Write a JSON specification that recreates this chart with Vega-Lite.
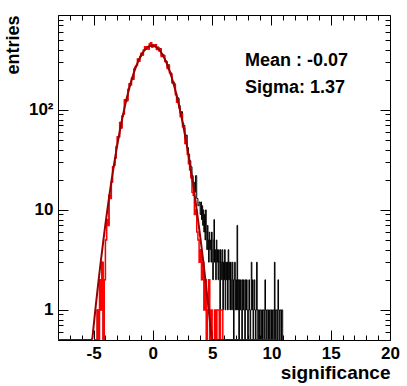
{
 "$schema": "https://vega.github.io/schema/vega-lite/v6.json",
 "width": 332, "height": 325,
 "autosize": "none",
 "padding": {"left": 58, "top": 15, "right": 17, "bottom": 46},
 "background": "white",
 "config": {
  "view": {"stroke": "black", "strokeWidth": 1},
  "font": "Liberation Sans",
  "axis": {"labelFont": "Liberation Sans", "labelFontWeight": "bold", "labelFontSize": 17, "labelColor": "black",
   "titleFont": "Liberation Sans", "titleFontWeight": "bold", "titleFontSize": 18, "titleColor": "black",
   "grid": false, "domain": false, "tickColor": "black", "tickWidth": 1, "labelOverlap": false, "labelFlush": false}
 },
 "datasets": {
  "hred": [
   {"c":-4.95,"n":0},{"c":-4.85,"n":0},{"c":-4.75,"n":0},{"c":-4.65,"n":1},{"c":-4.55,"n":0},{"c":-4.45,"n":2},{"c":-4.35,"n":1},{"c":-4.25,"n":3},{"c":-4.15,"n":0},{"c":-4.05,"n":2},
   {"c":-3.95,"n":5},{"c":-3.85,"n":8},{"c":-3.75,"n":7},{"c":-3.65,"n":14},{"c":-3.55,"n":13},{"c":-3.45,"n":19},{"c":-3.35,"n":27},{"c":-3.25,"n":28},{"c":-3.15,"n":33},{"c":-3.05,"n":43},
   {"c":-2.95,"n":54},{"c":-2.85,"n":54},{"c":-2.75,"n":75},{"c":-2.65,"n":66},{"c":-2.55,"n":87},{"c":-2.45,"n":91},{"c":-2.35,"n":126},{"c":-2.25,"n":122},{"c":-2.15,"n":124},{"c":-2.05,"n":161},
   {"c":-1.95,"n":183},{"c":-1.85,"n":178},{"c":-1.75,"n":209},{"c":-1.65,"n":202},{"c":-1.55,"n":257},{"c":-1.45,"n":270},{"c":-1.35,"n":278},{"c":-1.25,"n":323},{"c":-1.15,"n":306},{"c":-1.05,"n":341},
   {"c":-0.95,"n":369},{"c":-0.85,"n":353},{"c":-0.75,"n":397},{"c":-0.65,"n":428},{"c":-0.55,"n":404},{"c":-0.45,"n":427},{"c":-0.35,"n":406},{"c":-0.25,"n":455},{"c":-0.15,"n":469},{"c":-0.05,"n":425},
   {"c":0.05,"n":445},{"c":0.15,"n":430},{"c":0.25,"n":449},{"c":0.35,"n":401},{"c":0.45,"n":420},{"c":0.55,"n":391},{"c":0.65,"n":407},{"c":0.75,"n":341},{"c":0.85,"n":353},{"c":0.95,"n":348},
   {"c":1.05,"n":304},{"c":1.15,"n":303},{"c":1.25,"n":260},{"c":1.35,"n":278},{"c":1.45,"n":235},{"c":1.55,"n":228},{"c":1.65,"n":187},{"c":1.75,"n":185},{"c":1.85,"n":178},{"c":1.95,"n":142},
   {"c":2.05,"n":119},{"c":2.15,"n":126},{"c":2.25,"n":105},{"c":2.35,"n":86},{"c":2.45,"n":91},{"c":2.55,"n":68},{"c":2.65,"n":65},{"c":2.75,"n":46},{"c":2.85,"n":51},{"c":2.95,"n":36},
   {"c":3.05,"n":29},{"c":3.15,"n":25},{"c":3.25,"n":21},{"c":3.35,"n":15},{"c":3.45,"n":14},{"c":3.55,"n":9},{"c":3.65,"n":10},{"c":3.75,"n":6},{"c":3.85,"n":5},{"c":3.95,"n":3},
   {"c":4.05,"n":4},{"c":4.15,"n":2},{"c":4.25,"n":3},{"c":4.35,"n":1},{"c":4.45,"n":2},{"c":4.55,"n":0},{"c":4.65,"n":1},{"c":4.75,"n":2},{"c":4.85,"n":0},{"c":4.95,"n":1},
   {"c":5.05,"n":0},{"c":5.15,"n":0},{"c":5.25,"n":1},{"c":5.35,"n":0},{"c":5.45,"n":1},{"c":5.55,"n":1},{"c":5.65,"n":0},{"c":5.75,"n":1},{"c":5.85,"n":1},{"c":5.95,"n":0}
  ],
  "hblack": [
   {"c":-4.95,"n":0},{"c":-4.85,"n":0},{"c":-4.75,"n":0},{"c":-4.65,"n":1},{"c":-4.55,"n":0},{"c":-4.45,"n":2},{"c":-4.35,"n":1},{"c":-4.25,"n":3},{"c":-4.15,"n":0},{"c":-4.05,"n":2},
   {"c":-3.95,"n":5},{"c":-3.85,"n":8},{"c":-3.75,"n":7},{"c":-3.65,"n":14},{"c":-3.55,"n":13},{"c":-3.45,"n":19},{"c":-3.35,"n":27},{"c":-3.25,"n":28},{"c":-3.15,"n":33},{"c":-3.05,"n":43},
   {"c":-2.95,"n":54},{"c":-2.85,"n":54},{"c":-2.75,"n":75},{"c":-2.65,"n":66},{"c":-2.55,"n":87},{"c":-2.45,"n":91},{"c":-2.35,"n":126},{"c":-2.25,"n":122},{"c":-2.15,"n":124},{"c":-2.05,"n":161},
   {"c":-1.95,"n":183},{"c":-1.85,"n":178},{"c":-1.75,"n":209},{"c":-1.65,"n":202},{"c":-1.55,"n":257},{"c":-1.45,"n":270},{"c":-1.35,"n":278},{"c":-1.25,"n":323},{"c":-1.15,"n":306},{"c":-1.05,"n":341},
   {"c":-0.95,"n":369},{"c":-0.85,"n":353},{"c":-0.75,"n":397},{"c":-0.65,"n":428},{"c":-0.55,"n":404},{"c":-0.45,"n":427},{"c":-0.35,"n":406},{"c":-0.25,"n":455},{"c":-0.15,"n":469},{"c":-0.05,"n":425},
   {"c":0.05,"n":448},{"c":0.15,"n":434},{"c":0.25,"n":452},{"c":0.35,"n":405},{"c":0.45,"n":425},{"c":0.55,"n":395},{"c":0.65,"n":411},{"c":0.75,"n":346},{"c":0.85,"n":357},{"c":0.95,"n":353},
   {"c":1.05,"n":309},{"c":1.15,"n":308},{"c":1.25,"n":265},{"c":1.35,"n":283},{"c":1.45,"n":240},{"c":1.55,"n":233},{"c":1.65,"n":192},{"c":1.75,"n":191},{"c":1.85,"n":183},{"c":1.95,"n":148},
   {"c":2.05,"n":125},{"c":2.15,"n":132},{"c":2.25,"n":111},{"c":2.35,"n":92},{"c":2.45,"n":96},{"c":2.55,"n":74},{"c":2.65,"n":70},{"c":2.75,"n":52},{"c":2.85,"n":56},{"c":2.95,"n":42},
   {"c":3.05,"n":36},{"c":3.15,"n":31},{"c":3.25,"n":27},{"c":3.35,"n":22},{"c":3.45,"n":19},{"c":3.55,"n":15},{"c":3.65,"n":22},{"c":3.75,"n":13},{"c":3.85,"n":11},{"c":3.95,"n":12},
   {"c":4.025,"n":9},{"c":4.075,"n":12},{"c":4.125,"n":8},{"c":4.175,"n":11},{"c":4.225,"n":7},{"c":4.275,"n":10},{"c":4.325,"n":6},{"c":4.375,"n":9},{"c":4.425,"n":5},{"c":4.475,"n":10},
   {"c":4.525,"n":6},{"c":4.575,"n":4},{"c":4.625,"n":7},{"c":4.675,"n":5},{"c":4.725,"n":3},{"c":4.775,"n":6},{"c":4.825,"n":4},{"c":4.875,"n":5},{"c":4.925,"n":3},{"c":4.975,"n":6},
   {"c":5.025,"n":4},{"c":5.075,"n":2},{"c":5.125,"n":5},{"c":5.175,"n":8},{"c":5.225,"n":3},{"c":5.275,"n":4},{"c":5.325,"n":2},{"c":5.375,"n":5},{"c":5.425,"n":3},{"c":5.475,"n":4},
   {"c":5.525,"n":2},{"c":5.575,"n":4},{"c":5.625,"n":3},{"c":5.675,"n":1},{"c":5.725,"n":4},{"c":5.775,"n":3},{"c":5.825,"n":2},{"c":5.875,"n":4},{"c":5.925,"n":1},{"c":5.975,"n":3},
   {"c":6.025,"n":2},{"c":6.075,"n":4},{"c":6.125,"n":1},{"c":6.175,"n":3},{"c":6.225,"n":2},{"c":6.275,"n":3},{"c":6.325,"n":1},{"c":6.375,"n":4},{"c":6.425,"n":2},{"c":6.475,"n":3},
   {"c":6.525,"n":1},{"c":6.575,"n":3},{"c":6.625,"n":2},{"c":6.675,"n":1},{"c":6.725,"n":3},{"c":6.775,"n":2},{"c":6.825,"n":0},{"c":6.875,"n":2},{"c":6.925,"n":3},{"c":6.975,"n":1},
   {"c":7.025,"n":2},{"c":7.075,"n":1},{"c":7.125,"n":7},{"c":7.175,"n":1},{"c":7.225,"n":2},{"c":7.275,"n":0},{"c":7.325,"n":2},{"c":7.375,"n":1},{"c":7.425,"n":2},{"c":7.475,"n":1},
   {"c":7.525,"n":0},{"c":7.575,"n":2},{"c":7.625,"n":1},{"c":7.675,"n":2},{"c":7.725,"n":1},{"c":7.775,"n":0},{"c":7.825,"n":2},{"c":7.875,"n":1},{"c":7.925,"n":2},{"c":7.975,"n":1},
   {"c":8.025,"n":0},{"c":8.075,"n":1},{"c":8.125,"n":2},{"c":8.175,"n":1},{"c":8.225,"n":0},{"c":8.275,"n":1},{"c":8.325,"n":3},{"c":8.375,"n":1},{"c":8.425,"n":2},{"c":8.475,"n":0},
   {"c":8.525,"n":1},{"c":8.575,"n":2},{"c":8.625,"n":1},{"c":8.675,"n":0},{"c":8.725,"n":1},{"c":8.775,"n":3},{"c":8.825,"n":1},{"c":8.875,"n":0},{"c":8.925,"n":1},{"c":8.975,"n":1},
   {"c":9.025,"n":0},{"c":9.075,"n":1},{"c":9.125,"n":1},{"c":9.175,"n":0},{"c":9.225,"n":1},{"c":9.275,"n":0},{"c":9.325,"n":1},{"c":9.375,"n":1},{"c":9.425,"n":0},{"c":9.475,"n":2},
   {"c":9.525,"n":1},{"c":9.575,"n":0},{"c":9.625,"n":1},{"c":9.675,"n":1},{"c":9.725,"n":0},{"c":9.775,"n":1},{"c":9.825,"n":0},{"c":9.875,"n":1},{"c":9.925,"n":1},{"c":9.975,"n":0},
   {"c":10.025,"n":1},{"c":10.075,"n":0},{"c":10.125,"n":1},{"c":10.175,"n":1},{"c":10.225,"n":0},{"c":10.275,"n":3},{"c":10.325,"n":1},{"c":10.375,"n":0},{"c":10.425,"n":1},{"c":10.475,"n":1},
   {"c":10.525,"n":0},{"c":10.575,"n":2},{"c":10.625,"n":1},{"c":10.675,"n":0},{"c":10.725,"n":1},{"c":10.775,"n":1},{"c":10.825,"n":0},{"c":10.875,"n":1},{"c":10.925,"n":1},{"c":10.975,"n":0},
   {"c":11.025,"n":0}
  ],
  "fit": [
   {"x":-8,"f":0.000023},{"x":-5.6,"f":0.127},{"x":-5.4,"f":0.227},{"x":-5.2,"f":0.397},{"x":-5.1,"f":0.52},{"x":-5.0,"f":0.679},{"x":-4.8,"f":1.14},{"x":-4.6,"f":1.86},{"x":-4.4,"f":2.98},{"x":-4.2,"f":4.67},{"x":-4.0,"f":7.19},
   {"x":-3.8,"f":10.8},{"x":-3.6,"f":15.9},{"x":-3.4,"f":22.9},{"x":-3.2,"f":32.4},{"x":-3.0,"f":44.7},{"x":-2.8,"f":60.4},{"x":-2.6,"f":79.9},{"x":-2.4,"f":103.6},{"x":-2.2,"f":131.4},{"x":-2.0,"f":163.1},
   {"x":-1.8,"f":198.3},{"x":-1.6,"f":235.9},{"x":-1.4,"f":274.7},{"x":-1.2,"f":313.1},{"x":-1.0,"f":349.4},{"x":-0.8,"f":381.7},{"x":-0.6,"f":408.3},{"x":-0.4,"f":427.4},{"x":-0.2,"f":438.0},{"x":0,"f":439.4},
   {"x":0.2,"f":431.6},{"x":0.4,"f":414.9},{"x":0.6,"f":390.5},{"x":0.8,"f":359.6},{"x":1.0,"f":324.3},{"x":1.2,"f":286.3},{"x":1.4,"f":247.5},{"x":1.6,"f":209.4},{"x":1.8,"f":173.4},{"x":2.0,"f":140.5},
   {"x":2.2,"f":111.5},{"x":2.4,"f":86.6},{"x":2.6,"f":65.9},{"x":2.8,"f":49.0},{"x":3.0,"f":35.7},{"x":3.2,"f":25.5},{"x":3.4,"f":17.8},{"x":3.6,"f":12.2},{"x":3.8,"f":8.14},{"x":4.0,"f":5.33},
   {"x":4.2,"f":3.42},{"x":4.4,"f":2.15},{"x":4.6,"f":1.32},{"x":4.8,"f":0.793},{"x":4.9,"f":0.61},{"x":5.0,"f":0.467},{"x":5.1,"f":0.356},{"x":5.2,"f":0.269},{"x":5.4,"f":0.152},{"x":5.6,"f":0.084},{"x":10.5,"f":0.00000000005}
  ]
 },
 "resolve": {"axis": {"x": "independent", "y": "independent"}},
 "layer": [
  {
   "data": {"name": "hblack"},
   "mark": {"type": "line", "interpolate": "step", "color": "black", "strokeWidth": 1, "clip": true, "invalid": "show"},
   "encoding": {
    "x": {"field": "c", "type": "quantitative", "scale": {"domain": [-8, 20], "nice": false, "zero": false},
     "axis": {"orient": "bottom", "values": [-8,-7,-6,-5,-4,-3,-2,-1,0,1,2,3,4,5,6,7,8,9,10,11,12,13,14,15,16,17,18,19,20],
      "tickSize": {"condition": {"test": "datum.value % 5 === 0", "value": -10}, "value": -5},
      "labelExpr": "datum.value % 5 === 0 ? '' + datum.value : ''", "labelPadding": 15,
      "title": "significance", "titleFontSize": 19, "titleAnchor": "end", "titleAlign": "right", "titleBaseline": "alphabetic", "titleX": 332, "titleY": 38}},
    "y": {"field": "n", "type": "quantitative", "scale": {"type": "log", "domain": [0.5, 889], "nice": false, "clamp": true},
     "axis": {"orient": "left", "values": [0.5,0.6,0.7,0.8,0.9,1,2,3,4,5,6,7,8,9,10,20,30,40,50,60,70,80,90,100,200,300,400,500,600,700,800],
      "tickSize": {"condition": {"test": "datum.value == 1 || datum.value == 10 || datum.value == 100", "value": -10}, "value": -5},
      "labelExpr": "datum.value == 100 ? '10²' : datum.value == 10 ? '10' : datum.value == 1 ? '1' : ''", "labelPadding": 15,
      "title": "entries", "titleAngle": -90, "titleAnchor": "end", "titleAlign": "right", "titleBaseline": "alphabetic", "titleX": -40, "titleY": 0}}
   }
  },
  {
   "data": {"name": "hred"},
   "mark": {"type": "line", "interpolate": "step", "color": "#ff0000", "strokeWidth": 1.5, "clip": true, "invalid": "show"},
   "encoding": {
    "x": {"field": "c", "type": "quantitative", "scale": {"domain": [-8, 20], "nice": false, "zero": false}, "axis": null},
    "y": {"field": "n", "type": "quantitative", "scale": {"type": "log", "domain": [0.5, 889], "nice": false, "clamp": true}, "axis": null}
   }
  },
  {
   "data": {"name": "fit"},
   "mark": {"type": "line", "color": "#990000", "strokeWidth": 2, "clip": true},
   "encoding": {
    "x": {"field": "x", "type": "quantitative", "scale": {"domain": [-8, 20], "nice": false, "zero": false},
     "axis": {"orient": "top", "values": [-8,-7,-6,-5,-4,-3,-2,-1,0,1,2,3,4,5,6,7,8,9,10,11,12,13,14,15,16,17,18,19,20],
      "tickSize": {"condition": {"test": "datum.value % 5 === 0", "value": -10}, "value": -5}, "labels": false, "title": null}},
    "y": {"field": "f", "type": "quantitative", "scale": {"type": "log", "domain": [0.5, 889], "nice": false, "clamp": true},
     "axis": {"orient": "right", "values": [0.5,0.6,0.7,0.8,0.9,1,2,3,4,5,6,7,8,9,10,20,30,40,50,60,70,80,90,100,200,300,400,500,600,700,800],
      "tickSize": {"condition": {"test": "datum.value == 1 || datum.value == 10 || datum.value == 100", "value": -10}, "value": -5}, "labels": false, "title": null}}
   }
  },
  {
   "data": {"values": [{"label": "Mean : -0.07"}]},
   "mark": {"type": "text", "align": "left", "baseline": "alphabetic", "font": "Liberation Sans", "fontWeight": "bold", "fontSize": 18, "color": "black"},
   "encoding": {
    "x": {"datum": 7.77, "type": "quantitative", "scale": {"domain": [-8, 20], "nice": false, "zero": false}, "axis": null},
    "y": {"datum": 275, "type": "quantitative", "scale": {"type": "log", "domain": [0.5, 889], "nice": false, "clamp": true}, "axis": null},
    "text": {"field": "label"}
   }
  },
  {
   "data": {"values": [{"label": "Sigma: 1.37"}]},
   "mark": {"type": "text", "align": "left", "baseline": "alphabetic", "font": "Liberation Sans", "fontWeight": "bold", "fontSize": 18, "color": "black"},
   "encoding": {
    "x": {"datum": 7.77, "type": "quantitative", "scale": {"domain": [-8, 20], "nice": false, "zero": false}, "axis": null},
    "y": {"datum": 149, "type": "quantitative", "scale": {"type": "log", "domain": [0.5, 889], "nice": false, "clamp": true}, "axis": null},
    "text": {"field": "label"}
   }
  }
 ]
}
